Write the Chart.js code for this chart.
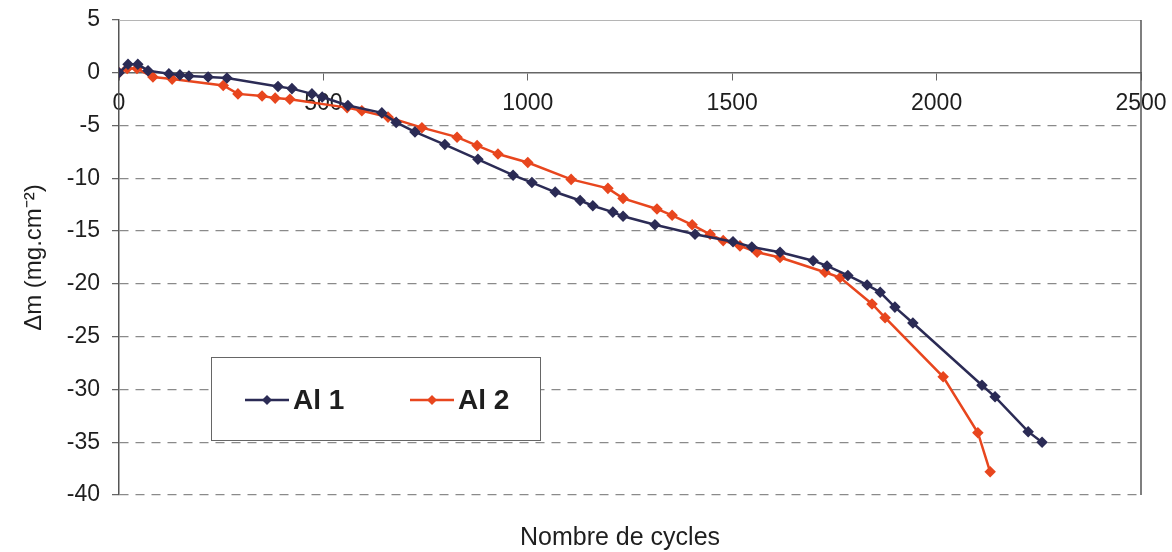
<!DOCTYPE html>
<html>
<head>
<meta charset="utf-8">
<script src="https://cdn.jsdelivr.net/npm/chart.js@4.4.1/dist/chart.umd.min.js"></script>
<style>
  html,body{margin:0;padding:0;background:#fff;}
  #wrap{width:1172px;height:552px;position:relative;}
</style>
</head>
<body>
<div id="wrap"><canvas id="ch"></canvas></div>
<script>
// ── données ──
const al1X=[0,22,46,71,122,149,171,218,264,389,423,472,497,560,643,678,724,797,878,964,1010,1067,1128,1159,1208,1233,1311,1409,1502,1548,1617,1698,1732,1783,1830,1862,1898,1942,2111,2143,2224,2258];
const al1Y=[0,0.8,0.8,0.2,-0.1,-0.2,-0.3,-0.4,-0.5,-1.3,-1.5,-2.0,-2.3,-3.1,-3.8,-4.7,-5.6,-6.8,-8.2,-9.7,-10.4,-11.3,-12.1,-12.6,-13.2,-13.6,-14.4,-15.3,-16.0,-16.5,-17.0,-17.8,-18.3,-19.2,-20.1,-20.8,-22.2,-23.7,-29.6,-30.7,-34.0,-35.0];
const al2X=[0,20,44,83,130,255,291,350,382,418,558,594,658,741,827,876,927,1000,1106,1196,1233,1316,1353,1402,1446,1478,1519,1561,1617,1727,1764,1842,1874,2016,2101,2131];
const al2Y=[0,0.4,0.4,-0.4,-0.6,-1.2,-2.0,-2.2,-2.4,-2.5,-3.3,-3.6,-4.2,-5.2,-6.1,-6.9,-7.7,-8.5,-10.1,-10.95,-11.9,-12.9,-13.5,-14.4,-15.3,-15.9,-16.4,-17.0,-17.5,-18.9,-19.4,-21.9,-23.2,-28.8,-34.1,-37.8];
const seriesNames=['Al 1','Al 2'];
const xTicks=[0,500,1000,1500,2000,2500];
const yTicks=[5,0,-5,-10,-15,-20,-25,-30,-35,-40];

const C={al1:'#2b2b55',al2:'#e8461e',grid:'#8a8a8a',txt:'#1e1e1e'};
const FONT='"Liberation Sans", Arial, sans-serif';

const pts=(xs,ys)=>xs.map((x,i)=>({x,y:ys[i]}));

// cadre + légende + titre X
const extras={
  id:'extras',
  afterDraw(chart){
    const {ctx,chartArea:a}=chart;
    ctx.save();
    ctx.strokeStyle='#b5b5b5'; ctx.lineWidth=1;
    ctx.beginPath();
    ctx.moveTo(a.left,a.top+0.5); ctx.lineTo(a.right,a.top+0.5);
    ctx.stroke();
    ctx.strokeStyle='#555'; ctx.lineWidth=1.5;
    ctx.beginPath();
    ctx.moveTo(a.right,a.top); ctx.lineTo(a.right,a.bottom);
    ctx.stroke();

    // légende
    const lx=a.left+92, ly=357, lw=329, lh=83;
    ctx.fillStyle='#fff'; ctx.fillRect(lx,ly,lw,lh);
    ctx.strokeStyle='#666'; ctx.lineWidth=1;
    ctx.strokeRect(lx+0.5,ly+0.5,lw,lh);
    const items=[{n:seriesNames[0],c:C.al1,x:lx+34},{n:seriesNames[1],c:C.al2,x:lx+199}];
    const cy=ly+43;
    items.forEach(it=>{
      ctx.strokeStyle=it.c; ctx.lineWidth=2.5;
      ctx.beginPath(); ctx.moveTo(it.x,cy); ctx.lineTo(it.x+44,cy); ctx.stroke();
      ctx.fillStyle=it.c;
      ctx.beginPath();
      ctx.moveTo(it.x+22,cy-5); ctx.lineTo(it.x+27,cy); ctx.lineTo(it.x+22,cy+5); ctx.lineTo(it.x+17,cy);
      ctx.closePath(); ctx.fill();
      ctx.fillStyle=C.txt; ctx.font='bold 28px '+FONT;
      ctx.textAlign='left'; ctx.textBaseline='middle';
      ctx.fillText(it.n,it.x+48,cy+1);
    });

    // titre axe X
    ctx.fillStyle=C.txt; ctx.font='25px '+FONT;
    ctx.textAlign='center'; ctx.textBaseline='middle';
    ctx.fillText('Nombre de cycles',(a.left+a.right)/2-10,538);
    ctx.restore();
  }
};

new Chart(document.getElementById('ch'),{
  type:'line',
  data:{
    datasets:[
      {label:seriesNames[0],data:pts(al1X,al1Y),borderColor:C.al1,backgroundColor:C.al1,
       borderWidth:2.5,pointStyle:'rectRot',pointRadius:4,pointHoverRadius:4,tension:0},
      {label:seriesNames[1],data:pts(al2X,al2Y),borderColor:C.al2,backgroundColor:C.al2,
       borderWidth:2.5,pointStyle:'rectRot',pointRadius:4,pointHoverRadius:4,tension:0}
    ]
  },
  options:{
    responsive:true,maintainAspectRatio:false,animation:false,
    layout:{padding:{top:20,right:31,bottom:57,left:20}},
    plugins:{legend:{display:false},tooltip:{enabled:false}},
    scales:{
      x:{
        type:'linear',min:0,max:2500,position:{y:0},
        afterBuildTicks:s=>{s.ticks=xTicks.map(v=>({value:v}));},
        afterFit:s=>{s.paddingLeft=0;s.paddingRight=0;},
        grid:{drawOnChartArea:false,drawTicks:true,tickLength:7,color:'#666'},
        border:{display:true,color:'#666',width:1.5},
        ticks:{font:{family:FONT,size:23},color:C.txt,padding:10,maxRotation:0,callback:v=>String(v)}
      },
      y:{
        min:-40,max:5,
        afterBuildTicks:s=>{s.ticks=yTicks.map(v=>({value:v}));},
        afterFit:s=>{s.width=99;s.paddingTop=0;s.paddingBottom=0;},
        grid:{
          color:c=>(c.tick && (c.tick.value===0||c.tick.value===5))?'rgba(0,0,0,0)':C.grid,
          lineWidth:1.3,tickLength:7,tickBorderDash:[1,0],tickColor:'#666'
        },
        border:{display:true,color:'#555',width:1.5,dash:[9,7]},
        ticks:{font:{family:FONT,size:23},color:C.txt,padding:12},
        title:{display:true,text:'\u0394m (mg.cm\u207B\u00B2)',font:{family:FONT,size:24},color:C.txt,padding:{top:0,bottom:4}}
      }
    }
  },
  plugins:[extras]
});
</script>
</body>
</html>
